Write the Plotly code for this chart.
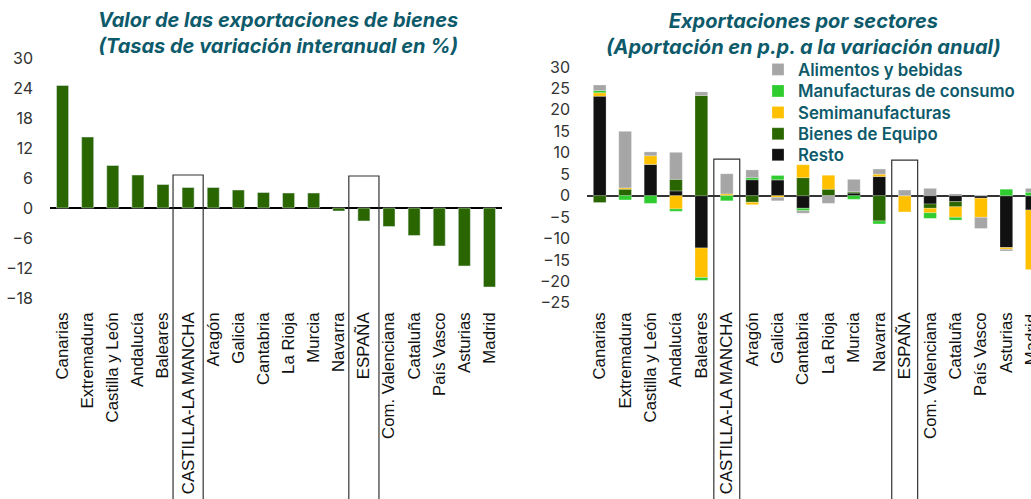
import plotly.graph_objects as go

regions = ["Canarias", "Extremadura", "Castilla y León", "Andalucía", "Baleares",
           "CASTILLA-LA MANCHA", "Aragón", "Galicia", "Cantabria", "La Rioja", "Murcia",
           "Navarra", "ESPAÑA", "Com. Valenciana", "Cataluña", "País Vasco", "Asturias", "Madrid"]
export_growth = [24.5, 14.2, 8.5, 6.6, 4.7, 4.1, 4.1, 3.6, 3.1, 3.0, 3.0,
                 -0.6, -2.6, -3.7, -5.5, -7.6, -11.6, -15.8]

resto = [23.2, 0, 7.3, 1.1, -12.2, 0, 3.7, 3.7, -2.95, 0, 0.6, 4.45, 0, -1.95, -1.4, -0.6, -12.1, -3.35]
bienes_equipo = [-1.6, 1.5, 0, 2.7, 23.35, 0, -1.55, 0, 4.2, 1.5, 0.3, -5.9, 0, -1.0, -1.2, 0, 0, 0]
semimanufacturas = [0.8, 0.3, 2.0, -3.1, -6.9, 0.4, -0.55, -0.4, 3.0, 3.3, 0, 0.55, -3.8, -1.05, -2.45, -4.45, -0.4, -13.9]
manufacturas_consumo = [0.5, -1.0, -1.8, -0.55, -0.65, -1.2, 0.5, 1.0, -0.55, 0, -0.85, -0.7, 0, -1.3, -0.65, 0, 1.5, 0.8]
alimentos_bebidas = [1.3, 13.2, 0.9, 6.3, 0.85, 4.7, 1.8, -0.8, -0.6, -1.8, 2.9, 1.2, 1.3, 1.7, 0.4, -2.6, -0.4, 0.9]

highlighted = ["CASTILLA-LA MANCHA", "ESPAÑA"]
left_box_tops = [6.6, 6.4]
right_box_tops = [8.5, 8.3]

W, H = 1031, 499
TEAL = "#0d5a6b"
DARK_GREEN = "#2a6600"

left_yrange = [-20, 30]
right_yrange = [-26.2, 30]
right_xrange = [-0.5, 16.97]
left_ydom = [1 - 308 / H, 1 - 58 / H]
right_ydom = [1 - 308 / H, 1 - 67 / H]
left_xdom = [50 / W, 502 / W]
right_xdom = [587 / W, 1.0]

fig = go.Figure()
fig.add_trace(go.Bar(x=regions, y=export_growth, marker_color=DARK_GREEN, width=0.48,
                     showlegend=False, xaxis="x", yaxis="y"))

series = [
    ("Resto", resto, "#111111"),
    ("Bienes de Equipo", bienes_equipo, "#2a6600"),
    ("Semimanufacturas", semimanufacturas, "#ffc000"),
    ("Manufacturas de consumo", manufacturas_consumo, "#2ecc2e"),
    ("Alimentos y bebidas", alimentos_bebidas, "#a6a6a6"),
]
# legend rows (top to bottom): Alimentos, Manufacturas, Semi, Bienes, Resto
legend_row_centers = {"Alimentos y bebidas": 69, "Manufacturas de consumo": 90.5,
                      "Semimanufacturas": 112, "Bienes de Equipo": 133.3, "Resto": 154.3}
legend_ids = {"Resto": "legend", "Bienes de Equipo": "legend2", "Semimanufacturas": "legend3",
              "Manufacturas de consumo": "legend4", "Alimentos y bebidas": "legend5"}

for name, vals, col in series:
    fig.add_trace(go.Bar(x=regions, y=vals, name=name, marker_color=col, width=0.5,
                         marker_line=dict(color="rgba(255,255,255,0.5)", width=0.5),
                         legend=legend_ids[name], xaxis="x2", yaxis="y2"))

tickfont_y = dict(family="Inter", size=16, color="#333333")
tickfont_x = dict(family="Liberation Sans", size=16.8, color="#111111")
legend_font = dict(family="Inter", size=16.8, color=TEAL, weight=600)

legend_layouts = {}
for name, lid in legend_ids.items():
    legend_layouts[lid] = dict(x=758 / W, y=1 - (legend_row_centers[name] - 17) / H,
                               xanchor="left", yanchor="top", font=legend_font,
                               bgcolor="rgba(0,0,0,0)", itemclick=False)

fig.update_layout(
    width=W, height=H, autosize=False,
    margin=dict(l=0, r=0, t=0, b=0, autoexpand=False),
    paper_bgcolor="white", plot_bgcolor="white",
    barmode="relative", bargap=0.5,
    xaxis=dict(domain=left_xdom, type="category", tickangle=-90, tickfont=tickfont_x,
               showgrid=False, showline=False, ticks="", range=[-0.5, 17.5], automargin=False),
    yaxis=dict(domain=left_ydom, range=left_yrange, tickvals=[-18, -12, -6, 0, 6, 12, 18, 24, 30],
               tickfont=tickfont_y, showgrid=False, zeroline=True, zerolinecolor="#000000",
               zerolinewidth=1.5, ticklabelstandoff=16, automargin=False),
    xaxis2=dict(domain=right_xdom, type="category", anchor="y2", tickangle=-90, tickfont=tickfont_x,
                showgrid=False, showline=False, ticks="", range=right_xrange, automargin=False),
    yaxis2=dict(domain=right_ydom, anchor="x2", range=right_yrange,
                tickvals=[-25, -20, -15, -10, -5, 0, 5, 10, 15, 20, 25, 30],
                tickfont=tickfont_y, showgrid=False, zeroline=True, zerolinecolor="#333333",
                zerolinewidth=1.5, ticklabelstandoff=16, automargin=False),
    showlegend=True,
    **legend_layouts,
)


def paper_y(v, rng, dom):
    return dom[0] + (v - rng[0]) / (rng[1] - rng[0]) * (dom[1] - dom[0])


for name, top in zip(highlighted, left_box_tops):
    i = regions.index(name)
    fig.add_shape(type="rect", xref="x", yref="paper", x0=i - 0.6, x1=i + 0.6,
                  y0=-0.05, y1=paper_y(top, left_yrange, left_ydom),
                  line=dict(color="#333333", width=1.2), fillcolor="rgba(0,0,0,0)", layer="above")
for name, top in zip(highlighted, right_box_tops):
    i = regions.index(name)
    fig.add_shape(type="rect", xref="x2", yref="paper", x0=i - 0.51, x1=i + 0.51,
                  y0=-0.05, y1=paper_y(top, right_yrange, right_ydom),
                  line=dict(color="#333333", width=1.2), fillcolor="rgba(0,0,0,0)", layer="above")

# last category label of right chart, partially outside the visible page (as in the reference)
last_idx = len(regions) - 1
xpaper_last = right_xdom[0] + (last_idx - right_xrange[0]) / (right_xrange[1] - right_xrange[0]) * (right_xdom[1] - right_xdom[0])
fig.add_annotation(x=xpaper_last, y=right_ydom[0], xref="paper", yref="paper", text=regions[-1],
                   textangle=-90, xanchor="center", yanchor="top", yshift=-4, showarrow=False,
                   font=tickfont_x)

title_font = dict(family="Inter", size=20, color=TEAL, weight=700, style="italic")
fig.add_annotation(x=278 / W, y=1 - 33 / H, xref="paper", yref="paper",
                   text="Valor de las exportaciones de bienes<br>(Tasas de variación interanual en %)",
                   showarrow=False, font=title_font, xanchor="center", yanchor="middle")
fig.add_annotation(x=803 / W, y=1 - 34 / H, xref="paper", yref="paper",
                   text="Exportaciones por sectores<br>(Aportación en p.p. a la variación anual)",
                   showarrow=False, font=title_font, xanchor="center", yanchor="middle")

fig.write_html("out.html", config={"displayModeBar": False},
               post_script="document.body.style.margin='0px';document.body.style.overflow='hidden';")
